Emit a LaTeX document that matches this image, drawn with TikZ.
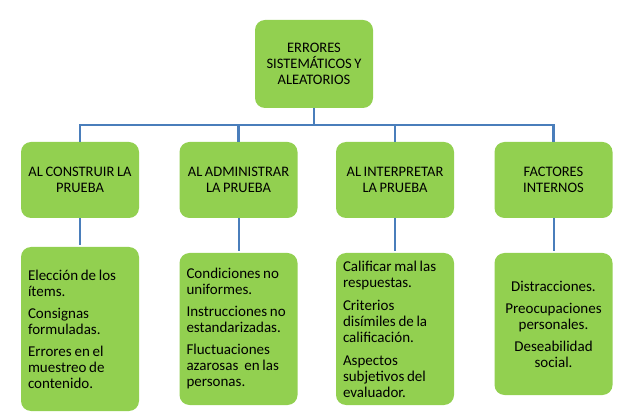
\documentclass[tikz,border=0pt]{standalone}
\usepackage{fontspec}
\setmainfont{Carlito}[WordSpace={0.8,0.3,0.3}]
\definecolor{boxgreen}{HTML}{92D050}
\definecolor{linkblue}{HTML}{4A7EBB}
\begin{document}
\begin{tikzpicture}[x=1pt,y=-1pt,
  box/.style={fill=boxgreen, rounded corners=10pt, draw=none, inner sep=0pt,
    minimum width=118pt, text=black},
  headbox/.style={box, align=center, minimum height=76pt,
    font=\fontsize{14.5}{16}\selectfont},
  listbox/.style={box, align=flush left, text width=104pt,
    font=\fontsize{15}{16}\selectfont},
  conn/.style={draw=linkblue, line width=2.6pt},
  subconn/.style={draw=linkblue, line width=2pt, shorten >=2pt}]
\fill[white] (0,0) rectangle (621,419);
\useasboundingbox (0,0) rectangle (621,419);
\node[headbox, minimum height=88pt] (top) at (314,64)
  {ERRORES\\SISTEMÁTICOS Y\\ALEATORIOS};
\node[headbox] (a1) at (80,180) {AL CONSTRUIR LA\\PRUEBA};
\node[headbox] (a2) at (238.5,180) {AL ADMINISTRAR\\LA PRUEBA};
\node[headbox] (a3) at (395,180) {AL INTERPRETAR\\LA PRUEBA};
\node[headbox] (a4) at (553.5,180) {FACTORES\\INTERNOS};
\node[listbox, minimum height=164pt] (b1) at (80,329)
  {Elección de los\\ítems.\\[6pt]Consignas\\formuladas.\\[6pt]Errores en el\\muestreo de\\contenido.};
\node[listbox, minimum height=152pt] (b2) at (238.5,329)
  {Condiciones no\\uniformes.\\[6pt]Instrucciones no\\estandarizadas.\\[6pt]Fluctuaciones\\azarosas\hspace{6pt}en las\\personas.};
\node[listbox, minimum height=152pt] (b3) at (395,329)
  {Calificar mal las\\respuestas.\\[7pt]Criterios\\disímiles de la\\calificación.\\[7pt]Aspectos\\subjetivos del\\evaluador.};
\node[box, align=center, minimum height=142pt, font=\fontsize{15}{16}\selectfont] (b4) at (553.5,324)
  {Distracciones.\\[6pt]Preocupaciones\\personales.\\[6pt]Deseabilidad\\social.};
\coordinate (hub) at (314,125);
\draw[conn] (top.south) -- (hub);
\draw[conn] (hub) -| (a1.north);
\draw[conn] (hub) -| (a2.north);
\draw[conn] (hub) -| (a3.north);
\draw[conn] (hub) -| (a4.north);
\draw[subconn] (a1.south) -- (b1.north);
\draw[subconn] (a2.south) -- (b2.north);
\draw[subconn] (a3.south) -- (b3.north);
\draw[subconn] (a4.south) -- (b4.north);
\end{tikzpicture}
\end{document}
